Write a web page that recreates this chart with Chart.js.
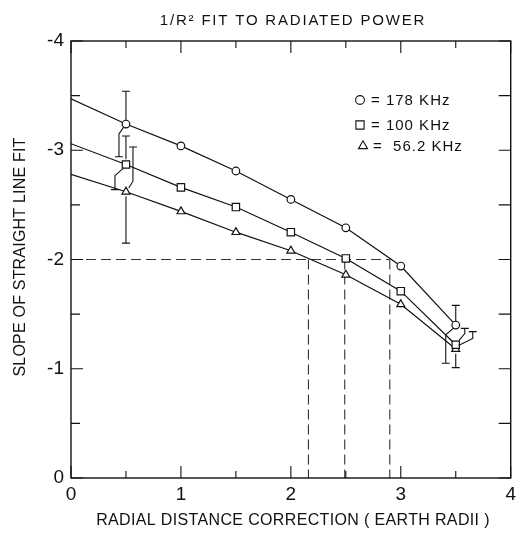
<!DOCTYPE html>
<html>
<head>
<meta charset="utf-8">
<script src="https://cdn.jsdelivr.net/npm/chart.js@4/dist/chart.umd.min.js"></script>
<style>
html,body{margin:0;padding:0;background:#fff;}
#wrap{width:521px;height:533px;position:relative;}
</style>
</head>
<body>
<div id="wrap"><canvas id="c" width="521" height="533"></canvas></div>
<script>
// ---- data ----
const xValues = [0, 0.5, 1, 1.5, 2, 2.5, 3, 3.5];
const s178 = [-3.47, -3.24, -3.04, -2.81, -2.55, -2.29, -1.94, -1.40];
const s100 = [-3.06, -2.87, -2.66, -2.48, -2.25, -2.01, -1.71, -1.22];
const s56  = [-2.78, -2.62, -2.44, -2.25, -2.08, -1.86, -1.59, -1.18];
const seriesLabels = ['178 KHz', '100 KHz', '56.2 KHz'];
const xTickLabels = ['0', '1', '2', '3', '4'];
const yTickLabels = ['-4', '-3', '-2', '-1', '0'];
// error bars at x = 0.5 and 3.5: [upper(more negative), lower]
const errX = [0.5, 3.5];
const err178 = [[-3.54, -2.94], [-1.58, -1.05]];
const err100 = [[-3.13, -2.64], [-1.37, null]];
const err56  = [[-3.03, -2.15], [-1.34, -1.01]];
// dashed reference lines
const refY = -2;
const refX = [2.16, 2.49, 2.90];

const titleText = '1/R\u00B2 FIT TO RADIATED POWER';
const xTitle = 'RADIAL DISTANCE CORRECTION ( EARTH RADII )';
const yTitle = 'SLOPE OF STRAIGHT LINE FIT';

// ---- styles ----
const FONT = '"Liberation Sans", Arial, sans-serif';
const styles = [
  {pointStyle: 'circle', radius: 3.8},
  {pointStyle: 'rect', radius: 5.2},
  {pointStyle: 'triangle', radius: 4.6}
];
// pixel offsets of error whiskers [ [upperOff, lowerOff] per errX ]
const errOffsets = [
  [[0, -7], [0, -10]],
  [[0, -11], [9, 0]],
  [[7, 0], [17, 0]]
];

function mk(vals, i) {
  return {
    label: seriesLabels[i],
    data: xValues.map((x, k) => ({x: x, y: vals[k]})),
    borderColor: '#111',
    borderWidth: 1.2,
    backgroundColor: '#fff',
    pointBackgroundColor: '#fff',
    pointBorderColor: '#111',
    pointBorderWidth: 1.2,
    pointStyle: styles[i].pointStyle,
    pointRadius: ctx => ctx.dataIndex === 0 ? 0 : styles[i].radius,
    pointHoverRadius: ctx => ctx.dataIndex === 0 ? 0 : styles[i].radius,
    tension: 0,
    fill: false
  };
}

const errSets = [err178, err100, err56];

const decor = {
  id: 'decor',
  beforeDatasetsDraw(chart) {
    const {ctx, chartArea: a, scales: {x, y}} = chart;
    ctx.save();
    ctx.strokeStyle = '#333';
    ctx.lineWidth = 1.1;
    ctx.setLineDash([10, 5]);
    const y2 = y.getPixelForValue(refY);
    ctx.beginPath();
    ctx.moveTo(x.getPixelForValue(0), y2);
    ctx.lineTo(x.getPixelForValue(Math.max(...refX)), y2);
    refX.forEach(v => {
      ctx.moveTo(x.getPixelForValue(v), y2);
      ctx.lineTo(x.getPixelForValue(v), y.getPixelForValue(0));
    });
    ctx.stroke();
    ctx.restore();
  },
  afterDatasetsDraw(chart) {
    const {ctx, chartArea: a, scales: {x, y}} = chart;
    ctx.save();
    ctx.strokeStyle = '#111';
    ctx.lineWidth = 1.1;
    ctx.setLineDash([]);
    // error bars
    errSets.forEach((set, si) => {
      const vals = [s178, s100, s56][si];
      errX.forEach((ex, ei) => {
        const k = xValues.indexOf(ex);
        const px = x.getPixelForValue(ex);
        const py = y.getPixelForValue(vals[k]);
        const r = styles[si].radius;
        set[ei].forEach((ev, j) => {
          if (ev === null) return;
          const off = errOffsets[si][ei][j];
          const ey = y.getPixelForValue(ev);
          const dir = ey < py ? -1 : 1;
          ctx.beginPath();
          if (off === 0) {
            ctx.moveTo(px, py + dir * r);
            ctx.lineTo(px, ey);
            ctx.moveTo(px - 4, ey);
            ctx.lineTo(px + 4, ey);
          } else {
            const ky = py + dir * (r + 6);
            ctx.moveTo(px + Math.sign(off) * r * 0.6, py + dir * r * 0.8);
            ctx.lineTo(px + off, ky);
            ctx.lineTo(px + off, ey);
            ctx.moveTo(px + off - 4, ey);
            ctx.lineTo(px + off + 4, ey);
          }
          ctx.stroke();
        });
      });
    });
    // frame
    ctx.lineWidth = 1.4;
    ctx.strokeStyle = '#111';
    ctx.strokeRect(a.left, a.top, a.right - a.left, a.bottom - a.top);
    // ticks
    ctx.lineWidth = 1.1;
    ctx.beginPath();
    for (let v = 0; v <= 4.001; v += 0.5) {
      const major = Math.abs(v - Math.round(v)) < 0.01;
      const len = major ? 12 : 7;
      const px = x.getPixelForValue(v);
      ctx.moveTo(px, a.bottom); ctx.lineTo(px, a.bottom - len);
      ctx.moveTo(px, a.top); ctx.lineTo(px, a.top + len);
      const py = y.getPixelForValue(-v);
      ctx.moveTo(a.left, py); ctx.lineTo(a.left + (major ? 12 : 9), py);
      ctx.moveTo(a.right, py); ctx.lineTo(a.right - 12, py);
    }
    ctx.stroke();
    ctx.fillStyle = '#111';
    ctx.textBaseline = 'middle';
    // title
    ctx.font = '15px ' + FONT;
    ctx.textAlign = 'center';
    ctx.letterSpacing = '1.8px';
    ctx.fillText(titleText, 293, 21);
    // x axis title
    ctx.font = '16px ' + FONT;
    ctx.letterSpacing = '0.35px';
    ctx.fillText(xTitle, 293, 521);
    // y axis title
    ctx.save();
    ctx.translate(21, 257);
    ctx.rotate(-Math.PI / 2);
    ctx.letterSpacing = '0.2px';
    ctx.fillText(yTitle, 0, 0);
    ctx.restore();
    // legend
    const lx = [360, 360, 363], ly = [100, 125, 146], tx = [371, 371, 373];
    const legTexts = ['= ' + seriesLabels[0], '= ' + seriesLabels[1], '=  ' + seriesLabels[2]];
    ctx.font = '15px ' + FONT;
    ctx.textAlign = 'left';
    ctx.letterSpacing = '1px';
    styles.forEach((st, i) => {
      ctx.lineWidth = 1.1;
      ctx.strokeStyle = '#111';
      ctx.fillStyle = '#fff';
      Chart.helpers.drawPoint(ctx, {pointStyle: st.pointStyle, radius: st.radius + 0.6, borderWidth: 1.1}, lx[i], ly[i]);
      ctx.fillStyle = '#111';
      ctx.fillText(legTexts[i], tx[i], ly[i] + 1);
    });
    ctx.restore();
  }
};

new Chart(document.getElementById('c'), {
  type: 'line',
  data: {datasets: [mk(s178, 0), mk(s100, 1), mk(s56, 2)]},
  options: {
    responsive: false,
    animation: false,
    events: [],
    layout: {padding: {top: 41, right: 9, left: 0, bottom: 0}},
    plugins: {legend: {display: false}, tooltip: {enabled: false}, title: {display: false}},
    scales: {
      x: {
        type: 'linear', min: 0, max: 4,
        afterFit: s => { s.height = 55; },
        grid: {display: false, drawTicks: false},
        border: {display: false},
        ticks: {
          stepSize: 1, padding: 5, color: '#111',
          font: {family: FONT, size: 19},
          callback: (v) => xTickLabels[Math.round(v)] ?? ''
        },
        title: {display: false}
      },
      y: {
        type: 'linear', min: -4, max: 0, reverse: true,
        afterFit: s => { s.width = 71; },
        grid: {display: false, drawTicks: false},
        border: {display: false},
        ticks: {
          stepSize: 1, padding: 7, color: '#111',
          font: {family: FONT, size: 19},
          callback: (v) => yTickLabels[Math.round(v) + 4] ?? ''
        },
        title: {display: false}
      }
    }
  },
  plugins: [decor]
});
</script>
</body>
</html>
